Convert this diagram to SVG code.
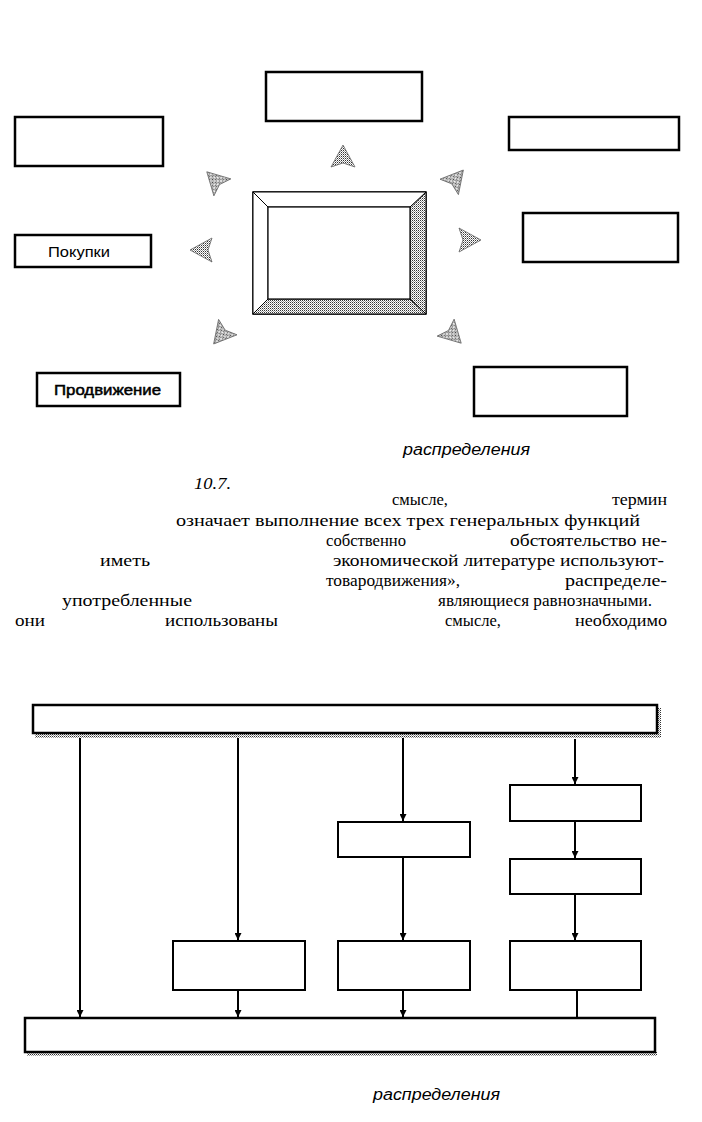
<svg xmlns="http://www.w3.org/2000/svg" width="702" height="1122" viewBox="0 0 702 1122">
<defs>
<pattern id="dith" width="2" height="2" patternUnits="userSpaceOnUse"><rect width="2" height="2" fill="#fff"/><rect width="1" height="1" fill="#333"/><rect x="1" y="1" width="1" height="1" fill="#999"/></pattern>
<marker id="ah" viewBox="0 0 10 10" refX="10" refY="5" markerWidth="7" markerHeight="7" markerUnits="userSpaceOnUse" orient="auto"><path d="M0,0 L10,5 L0,10 Z" fill="#000"/></marker>
<path id="tri" d="M0,-13 L12,9 L0,5 L-12,9 Z"/>
</defs>
<style>
.box{fill:#fff;stroke:#000;stroke-width:2.5}
.bx{fill:#fff;stroke:#000;stroke-width:2}
.arr{fill:url(#dith);stroke:#666;stroke-width:0.8}
.lbl{font-family:"Liberation Sans",Arial,sans-serif;font-size:15px;fill:#000}
.cap{font-family:"Liberation Sans",Arial,sans-serif;font-size:16px;font-style:italic;fill:#000}
.txt{font-family:"Liberation Serif","Times New Roman",serif;font-size:16.5px;fill:#000}
.con{stroke:#000;stroke-width:2;fill:none}
</style>
<rect width="702" height="1122" fill="#fff"/>

<!-- top diagram -->
<g id="top-box"><rect class="box" x="266" y="72" width="156" height="49"/></g>
<g id="tl-box"><rect class="box" x="15" y="117" width="148" height="49"/></g>
<g id="tr-box"><rect class="box" x="509" y="117" width="170" height="33"/></g>
<g id="r-box"><rect class="box" x="523" y="213" width="155" height="49"/></g>
<g id="br-box"><rect class="box" x="474" y="367" width="153" height="49"/></g>
<g id="pokupki"><rect class="box" x="15" y="235" width="136" height="32"/><text class="lbl" x="48" y="257" textLength="62" lengthAdjust="spacingAndGlyphs">Покупки</text></g>
<g id="prodvizhenie"><rect class="box" x="37" y="373" width="143" height="33"/><text class="lbl" x="54" y="395" stroke="#000" stroke-width="0.5" textLength="107" lengthAdjust="spacingAndGlyphs">Продвижение</text></g>

<g id="center-frame">
<rect x="253" y="192" width="173" height="122" fill="#fff" stroke="#000" stroke-width="1.5"/>
<polygon points="410,207 426,192 426,314 410,299" fill="url(#dith)" stroke="#000" stroke-width="1"/>
<polygon points="268,299 410,299 426,314 253,314" fill="url(#dith)" stroke="#000" stroke-width="1"/>
<polygon points="253,192 426,192 410,207 268,207" fill="#fff" stroke="#000" stroke-width="1"/>
<polygon points="253,192 268,207 268,299 253,314" fill="#fff" stroke="#000" stroke-width="1"/>
<rect x="268" y="207" width="142" height="92" fill="#fff" stroke="#000" stroke-width="1.2"/>
</g>

<g id="arrows-top">
<use href="#tri" class="arr" transform="translate(343,158)"/>
<use href="#tri" class="arr" transform="translate(455,180) rotate(40)"/>
<use href="#tri" class="arr" transform="translate(468,240) rotate(90)"/>
<use href="#tri" class="arr" transform="translate(452,334) rotate(135)"/>
<use href="#tri" class="arr" transform="translate(222,334) rotate(-140)"/>
<use href="#tri" class="arr" transform="translate(203,250) rotate(-90)"/>
<use href="#tri" class="arr" transform="translate(216,181) rotate(-45)"/>
</g>

<text class="cap" x="403" y="455" textLength="127" lengthAdjust="spacingAndGlyphs">распределения</text>

<!-- paragraph -->
<text class="txt" x="194" y="489" font-style="italic" textLength="37" lengthAdjust="spacingAndGlyphs">10.7.</text>
<text class="txt" x="392" y="505" textLength="56" lengthAdjust="spacingAndGlyphs">смысле,</text>
<text class="txt" x="612" y="505" textLength="55" lengthAdjust="spacingAndGlyphs">термин</text>
<text class="txt" x="176" y="526" textLength="464" lengthAdjust="spacingAndGlyphs">означает выполнение всех трех генеральных функций</text>
<text class="txt" x="326" y="546" textLength="80" lengthAdjust="spacingAndGlyphs">собственно</text>
<text class="txt" x="510" y="546" textLength="157" lengthAdjust="spacingAndGlyphs">обстоятельство не-</text>
<text class="txt" x="100" y="566" textLength="50" lengthAdjust="spacingAndGlyphs">иметь</text>
<text class="txt" x="333" y="566" textLength="331" lengthAdjust="spacingAndGlyphs">экономической литературе используют-</text>
<text class="txt" x="326" y="586" textLength="134" lengthAdjust="spacingAndGlyphs">товародвижения»,</text>
<text class="txt" x="565" y="586" textLength="102" lengthAdjust="spacingAndGlyphs">распределе-</text>
<text class="txt" x="62" y="606" textLength="130" lengthAdjust="spacingAndGlyphs">употребленные</text>
<text class="txt" x="438" y="606" textLength="214" lengthAdjust="spacingAndGlyphs">являющиеся равнозначными.</text>
<text class="txt" x="15" y="626" textLength="30" lengthAdjust="spacingAndGlyphs">они</text>
<text class="txt" x="165" y="626" textLength="113" lengthAdjust="spacingAndGlyphs">использованы</text>
<text class="txt" x="445" y="626" textLength="56" lengthAdjust="spacingAndGlyphs">смысле,</text>
<text class="txt" x="575" y="626" textLength="92" lengthAdjust="spacingAndGlyphs">необходимо</text>

<!-- bottom diagram -->
<g id="top-bar">
<rect x="35" y="733" width="626" height="5" fill="url(#dith)"/>
<rect x="656" y="708" width="5" height="30" fill="url(#dith)"/>
<rect class="box" x="33" y="705" width="624" height="28"/>
</g>
<g id="bottom-bar">
<rect x="27" y="1052" width="630" height="4" fill="url(#dith)"/>
<rect class="box" x="25" y="1018" width="630" height="34"/>
</g>
<g id="box-a"><rect class="bx" x="510" y="785" width="131" height="36"/></g>
<g id="box-b"><rect class="bx" x="510" y="859" width="131" height="35"/></g>
<g id="box-c"><rect class="bx" x="338" y="822" width="132" height="35"/></g>
<g id="box-1"><rect class="bx" x="173" y="941" width="132" height="49"/></g>
<g id="box-2"><rect class="bx" x="338" y="941" width="132" height="49"/></g>
<g id="box-3"><rect class="bx" x="510" y="941" width="131" height="49"/></g>

<g id="connectors">
<line class="con" x1="80" y1="738" x2="80" y2="1017" marker-end="url(#ah)"/>
<line class="con" x1="238" y1="738" x2="238" y2="940" marker-end="url(#ah)"/>
<line class="con" x1="238" y1="991" x2="238" y2="1017" marker-end="url(#ah)"/>
<line class="con" x1="403" y1="738" x2="403" y2="821" marker-end="url(#ah)"/>
<line class="con" x1="403" y1="858" x2="403" y2="940" marker-end="url(#ah)"/>
<line class="con" x1="403" y1="991" x2="403" y2="1017" marker-end="url(#ah)"/>
<line class="con" x1="575" y1="739" x2="575" y2="784" marker-end="url(#ah)"/>
<line class="con" x1="575" y1="822" x2="575" y2="858" marker-end="url(#ah)"/>
<line class="con" x1="575" y1="895" x2="575" y2="940" marker-end="url(#ah)"/>
<line class="con" x1="577" y1="991" x2="577" y2="1018"/>
</g>

<text class="cap" x="373" y="1100" textLength="127" lengthAdjust="spacingAndGlyphs">распределения</text>
</svg>
